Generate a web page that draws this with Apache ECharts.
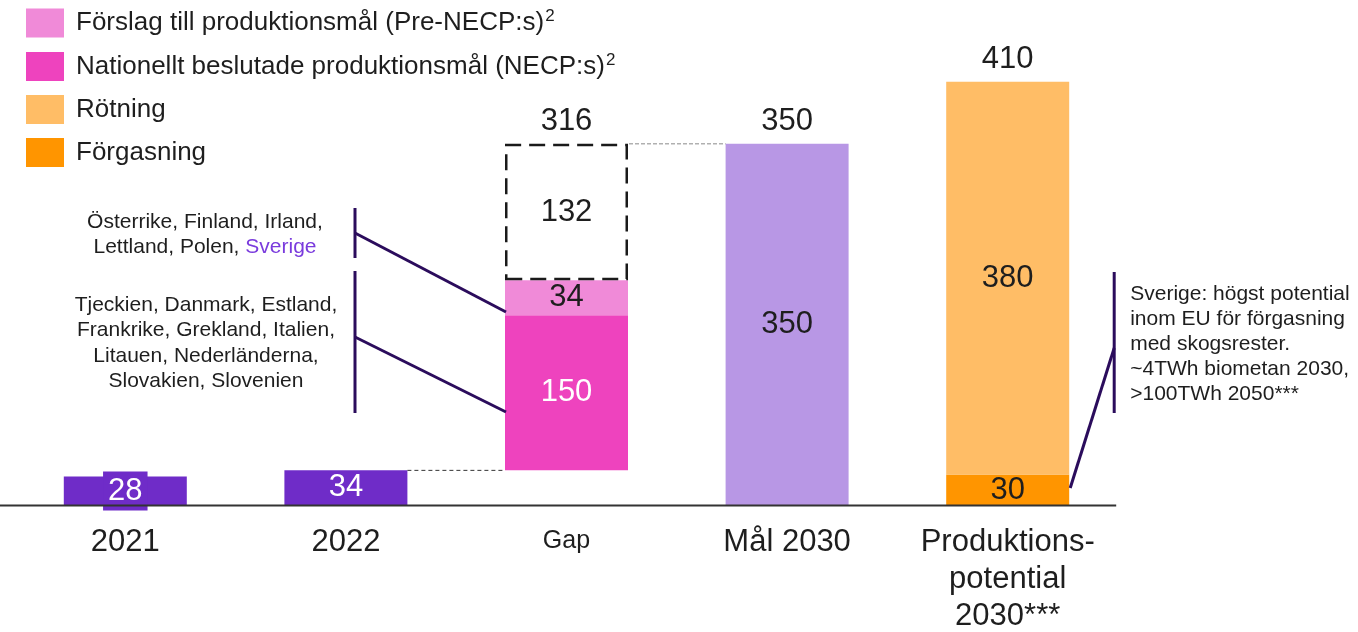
<!DOCTYPE html>
<html lang="sv">
<head>
<meta charset="utf-8">
<title>Biometan: produktion, mål och potential</title>
<script src="https://cdn.jsdelivr.net/npm/echarts@6/dist/echarts.min.js"></script>
<style>
  html, body { margin: 0; padding: 0; background: #ffffff; }
  #chart { width: 1358px; height: 632px; }
</style>
</head>
<body>
<div id="chart"></div>
<script>
// Kategorier på x-axeln
const categories = ['2021', '2022', 'Gap', 'Mål 2030', 'Produktions-\npotential\n2030***'];

// Serievärden (TWh), ett värde per kategori, '-' = saknas
const actual      = [28, 34, '-', '-', '-'];   // faktisk produktion
const gapBase     = ['-', '-', 34, '-', '-'];  // osynlig bas för gap-stapeln
const necp        = ['-', '-', 150, '-', '-']; // nationellt beslutade mål
const preNecp     = ['-', '-', 34, '-', '-'];  // förslag till mål
const remaining   = ['-', '-', 132, '-', '-']; // kvarvarande gap
const target2030  = ['-', '-', '-', 350, '-'];
const gasification = ['-', '-', '-', '-', 30];
const digestion   = ['-', '-', '-', '-', 380];

// Summor som visas ovanför staplarna (basen räknas inte med)
const topParts = [necp, preNecp, remaining, target2030, gasification, digestion];
const totals = categories.map((_, i) =>
  topParts.reduce((s, arr) => s + (typeof arr[i] === 'number' ? arr[i] : 0), 0));
const totalCarrier = totals.map((t, i) => (i >= 2 ? 0 : '-'));

const legendNames = {
  pre: 'Förslag till produktionsmål (Pre-NECP:s)',
  necp: 'Nationellt beslutade produktionsmål (NECP:s)',
  rot: 'Rötning',
  forg: 'Förgasning'
};

const FONT = '"Liberation Sans", Arial, Helvetica, sans-serif';
const DARK = '#1e1e1e';
const C = {
  purple: '#6F2CC8',
  necp: '#EE43BE',
  pre: '#F08AD8',
  target: '#B897E5',
  rot: '#FFBD66',
  forg: '#FF9500',
  anno: '#2B0C5C',
  sverige: '#7A3BDD'
};

const innerLabel = (color) => ({
  show: true, position: 'inside', fontSize: 31, color: color, fontFamily: FONT
});

// Låga staplar får en etikettplatta i stapelns färg så att siffran syns helt
const actualData = actual.map((v) => (typeof v === 'number' && v < 30)
  ? { value: v, label: { backgroundColor: C.purple, padding: [4, 5, 3, 5], lineHeight: 32 } }
  : v);

const option = {
  animation: false,
  textStyle: { fontFamily: FONT },
  legend: {
    left: 21, top: 3, orient: 'vertical',
    itemWidth: 38, itemHeight: 29, itemGap: 14,
    icon: 'rect',
    selectedMode: false,
    data: [legendNames.pre, legendNames.necp, legendNames.rot, legendNames.forg],
    formatter: (name) => (name.indexOf('NECP') >= 0 ? '{t|' + name + '}{sup|2}' : '{t|' + name + '}'),
    textStyle: {
      padding: [0, 0, 0, 7],
      rich: {
        t: { fontSize: 26, color: DARK, fontFamily: FONT, lineHeight: 30 },
        sup: { fontSize: 17, color: DARK, fontFamily: FONT, verticalAlign: 'top', lineHeight: 30, padding: [0, 0, 10, 1] }
      }
    }
  },
  grid: { left: 15, right: 240, top: 9.5, bottom: 126, containLabel: false },
  xAxis: {
    type: 'category',
    data: categories,
    axisLine: { show: false },
    axisTick: { show: false },
    axisLabel: {
      margin: 18.5,
      interval: 0,
      formatter: (v) => v === 'Gap' ? '{s|Gap}' : v.split('\n').map((l) => '{b|' + l + '}').join('\n'),
      rich: {
        b: { fontSize: 31, lineHeight: 37, color: DARK, fontFamily: FONT, align: 'center' },
        s: { fontSize: 25, lineHeight: 34, color: DARK, fontFamily: FONT }
      }
    }
  },
  yAxis: { type: 'value', min: 0, max: 480, show: false, splitLine: { show: false } },
  series: [
    {
      name: 'Produktion', type: 'bar', stack: 'a', barWidth: 123, data: actualData,
      itemStyle: { color: C.purple },
      label: innerLabel('#ffffff')
    },
    {
      name: 'bas', type: 'bar', stack: 'a', barWidth: 123, data: gapBase,
      itemStyle: { color: 'rgba(0,0,0,0)' }, silent: true
    },
    {
      name: legendNames.necp, type: 'bar', stack: 'a', barWidth: 123, data: necp,
      itemStyle: { color: C.necp }, label: innerLabel('#ffffff')
    },
    {
      name: legendNames.pre, type: 'bar', stack: 'a', barWidth: 123, data: preNecp,
      itemStyle: { color: C.pre }, label: innerLabel(DARK)
    },
    {
      name: 'Återstående gap', type: 'bar', stack: 'a', barWidth: 123, data: remaining,
      itemStyle: {
        color: 'rgba(255,255,255,0)', borderColor: '#1a1a1a',
        borderWidth: 2.5, borderType: [16, 8]
      },
      label: innerLabel(DARK), z: 3
    },
    {
      name: 'Mål 2030', type: 'bar', stack: 'a', barWidth: 123, data: target2030,
      itemStyle: { color: C.target }, label: innerLabel(DARK)
    },
    {
      name: legendNames.forg, type: 'bar', stack: 'a', barWidth: 123, data: gasification,
      itemStyle: { color: C.forg }, label: innerLabel(DARK)
    },
    {
      name: legendNames.rot, type: 'bar', stack: 'a', barWidth: 123, data: digestion,
      itemStyle: { color: C.rot }, label: innerLabel(DARK)
    },
    {
      name: 'Summa', type: 'bar', stack: 'a', barWidth: 123, data: totalCarrier,
      itemStyle: { color: 'rgba(0,0,0,0)' },
      label: {
        show: true, position: 'top', distance: 7, fontSize: 31, color: DARK, fontFamily: FONT,
        formatter: (p) => String(totals[p.dataIndex])
      }
    }
  ]
};

const chart = echarts.init(document.getElementById('chart'), null, { renderer: 'canvas' });
chart.setOption(option);

// Pixelpositioner härledda från axlarnas skalor
const px = (i, v) => chart.convertToPixel({ seriesIndex: 0 }, [i, v]);
const half = 123 / 2;
const y0 = px(0, 0)[1];
const cx = categories.map((_, i) => px(i, 0)[0]);
const left = (i) => cx[i] - half;
const right = (i) => cx[i] + half;
const yTopGapBase = px(2, gapBase[2])[1];
const yTarget = px(3, target2030[3])[1];

const leftAnnoX = left(2) - 150;
const rightAnnoX = right(4) + 45;

const annoLine = (x1, y1, x2, y2) => ({
  type: 'line', z: 20,
  shape: { x1, y1, x2, y2 },
  style: { stroke: C.anno, lineWidth: 3 }
});
const txt = (text, x, y, align, rich) => ({
  type: 'text', z: 20,
  style: {
    text, x, y, align, verticalAlign: 'middle',
    fontSize: 21, fontFamily: FONT, fill: DARK, rich: rich
  }
});

const leftBlock1 = ['Österrike, Finland, Irland,', '{n|Lettland, Polen, }{s|Sverige}'];
const leftBlock2 = ['Tjeckien, Danmark, Estland,', 'Frankrike, Grekland, Italien,', 'Litauen, Nederländerna,', 'Slovakien, Slovenien'];
const rightBlock = ['Sverige: högst potential', 'inom EU för förgasning', 'med skogsrester.', '~4TWh biometan 2030,', '>100TWh 2050***'];
const richSv = {
  n: { fontSize: 21, fontFamily: FONT, fill: DARK, color: DARK },
  s: { fontSize: 21, fontFamily: FONT, fill: C.sverige, color: C.sverige }
};

const graphics = [
  // x-axelns baslinje
  { type: 'line', z: 15, shape: { x1: 0, y1: y0, x2: rightAnnoX + 2, y2: y0 },
    style: { stroke: '#333333', lineWidth: 2 } },
  // streckad koppling 2022 -> gap
  { type: 'line', z: 15, shape: { x1: right(1), y1: yTopGapBase, x2: left(2), y2: yTopGapBase },
    style: { stroke: '#333333', lineWidth: 1, lineDash: [4, 3] } },
  // streckad koppling gap -> mål 2030
  { type: 'line', z: 15, shape: { x1: right(2) + 1, y1: yTarget, x2: left(3), y2: yTarget },
    style: { stroke: '#8a8a8a', lineWidth: 1, lineDash: [4, 2] } },
  // vänstra hakparenteser och pekare
  annoLine(leftAnnoX, 208, leftAnnoX, 258),
  annoLine(leftAnnoX, 233, left(2) + 1, 312),
  annoLine(leftAnnoX, 271, leftAnnoX, 413),
  annoLine(leftAnnoX, 337, left(2) + 1, 412),
  // högra hakparentes och pekare
  annoLine(rightAnnoX, 272, rightAnnoX, 413),
  annoLine(rightAnnoX, 348, right(4) + 1, 488)
];

graphics.push(txt(leftBlock1[0], 205, 222, 'center'));
graphics.push(txt(leftBlock1[1], 205, 247, 'center', richSv));
leftBlock2.forEach((l, k) => graphics.push(txt(l, 206, 305 + k * 25.5, 'center')));
rightBlock.forEach((l, k) => graphics.push(txt(l, rightAnnoX + 16, 294 + k * 25, 'left')));

chart.setOption({ graphic: graphics });
</script>
</body>
</html>
